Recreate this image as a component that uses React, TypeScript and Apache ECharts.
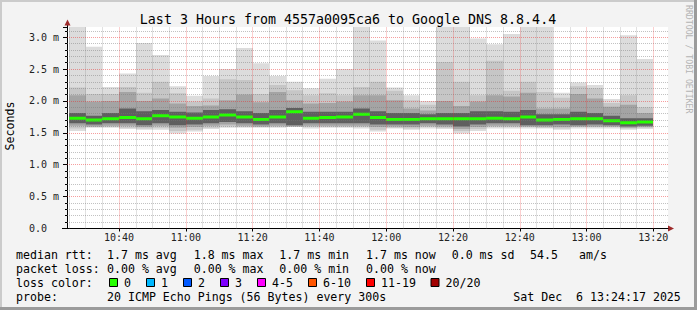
import React, { useEffect, useRef } from "react";
import * as echarts from "echarts";

// ---- data (ms) ----
const slotStart = ["10:25","10:30","10:35","10:40","10:45","10:50","10:55","11:00","11:05","11:10","11:15","11:20","11:25","11:30","11:35","11:40","11:45","11:50","11:55","12:00","12:05","12:10","12:15","12:20","12:25","12:30","12:35","12:40","12:45","12:50","12:55","13:00","13:05","13:10","13:15"];
const maxV = [3.2,2.85,2.22,2.43,2.91,2.72,2.23,2.08,2.39,2.50,2.83,2.59,2.39,2.30,2.20,2.35,2.50,3.2,2.95,2.21,2.09,2.00,3.2,3.2,2.98,2.89,3.05,3.2,3.2,2.13,2.29,2.25,2.03,3.03,2.66];
const p90 = [2.21,2.11,2.11,2.22,2.13,2.30,2.12,1.99,2.04,2.34,2.33,2.11,2.25,2.17,2.09,2.12,2.09,2.22,2.30,2.16,2.01,1.94,2.61,2.30,2.09,2.63,2.16,2.30,2.14,2.05,2.23,2.20,1.97,2.09,1.90];
const p75 = [2.09,1.99,2.00,2.14,2.00,2.04,1.96,1.92,1.93,2.01,2.10,1.98,2.14,2.01,1.96,1.97,1.99,2.09,2.09,2.01,1.88,1.85,2.00,1.92,1.99,2.09,2.07,2.13,1.88,1.88,2.11,2.04,1.91,1.94,1.81];
const innerHi = [1.81,1.77,1.81,1.88,1.84,1.86,1.83,1.82,1.86,1.87,1.84,1.81,1.86,1.89,1.83,1.83,1.83,1.88,1.84,1.81,1.81,1.79,1.81,1.81,1.84,1.84,1.83,1.86,1.79,1.79,1.83,1.81,1.77,1.73,1.73];
const median = [1.73,1.70,1.72,1.74,1.72,1.77,1.75,1.73,1.75,1.78,1.75,1.71,1.75,1.83,1.73,1.74,1.75,1.79,1.74,1.71,1.71,1.72,1.72,1.72,1.72,1.73,1.72,1.75,1.70,1.71,1.72,1.72,1.69,1.66,1.67];
const innerLo = [1.65,1.63,1.65,1.65,1.62,1.65,1.62,1.63,1.65,1.67,1.65,1.63,1.65,1.62,1.65,1.65,1.65,1.65,1.63,1.63,1.63,1.65,1.63,1.60,1.63,1.65,1.65,1.62,1.62,1.63,1.62,1.63,1.62,1.60,1.61];
const p25 = [1.61,1.60,1.61,1.61,1.59,1.61,1.58,1.59,1.61,1.63,1.61,1.60,1.61,1.60,1.61,1.61,1.61,1.61,1.59,1.60,1.59,1.61,1.60,1.56,1.59,1.61,1.61,1.60,1.60,1.59,1.60,1.60,1.60,1.58,1.59];
const p10 = [1.57,1.59,1.59,1.58,1.57,1.58,1.53,1.55,1.58,1.60,1.59,1.59,1.59,1.60,1.59,1.59,1.59,1.59,1.55,1.58,1.57,1.59,1.58,1.53,1.56,1.59,1.59,1.59,1.58,1.57,1.59,1.59,1.59,1.57,1.58];
const minV = [1.53,1.58,1.58,1.56,1.55,1.55,1.49,1.52,1.56,1.58,1.58,1.58,1.58,1.60,1.57,1.58,1.58,1.57,1.52,1.57,1.55,1.57,1.56,1.49,1.53,1.57,1.57,1.57,1.57,1.55,1.57,1.57,1.57,1.55,1.56];

const xTickLabels = ["10:40","11:00","11:20","11:40","12:00","12:20","12:40","13:00","13:20"];
const rangeStart = "10:24:24";
const rangeEnd = "13:24:24";
const stepMinutes = 5;

const titleText = "Last 3 Hours from 4557a0095ca6 to Google DNS 8.8.4.4";
const rttStats = ["1.7 ms avg","1.8 ms max","1.7 ms min","1.7 ms now","0.0 ms sd","54.5","am/s"];
const lossStats = ["0.00 % avg","0.00 % max","0.00 % min","0.00 % now"];
const lossLabels = ["0","1","2","3","4-5","6-10","11-19","20/20"];
const lossColors = ["#26ff00","#00b8ff","#0059ff","#7e00ff","#ff00ff","#ff5500","#ff0000","#a10000"];
const probeText = "20 ICMP Echo Pings (56 Bytes) every 300s";
const dateText = "Sat Dec\u00a0 6 13:24:17 2025";

// ---- layout ----
const RTT_X = [107, 193.7, 279.3, 366, 451.7, 530, 579];
const BOX_X = [109, 146, 183, 220, 257, 308, 366, 430.5];
const ROW_Y = [254.5, 268.5, 282.5, 296.5];
const MONO = '"DejaVu Sans Mono", monospace';

const toMin = (s: string) => {
  const p = s.split(":").map(Number);
  return (p[0] - 10) * 60 + p[1] + (p[2] || 0) / 60;
};
const fmtTime = (v: number) => {
  const h = 10 + Math.floor(v / 60);
  const m = Math.round(v % 60);
  return `${h}:${m < 10 ? "0" + m : m}`;
};

export default function App() {
  const ref = useRef<HTMLDivElement>(null);
  useEffect(() => {
    document.body.style.margin = "0";
    const chart = echarts.init(ref.current!, null, { renderer: "svg" });
    const xMin = toMin(rangeStart);
    const xMax = toMin(rangeEnd);
    const yMax = 3.16;

    const data = slotStart.map((s, i) => [
      toMin(s), minV[i], p10[i], p25[i], innerLo[i], median[i], innerHi[i], p75[i], p90[i], maxV[i],
    ]);

    const majorX = xTickLabels.map(toMin);
    const minorX: number[] = [];
    for (let v = Math.ceil(xMin / stepMinutes) * stepMinutes; v <= xMax; v += stepMinutes) {
      if (!majorX.includes(v)) minorX.push(v);
    }
    const majorY: number[] = [];
    const minorY: number[] = [];
    for (let k = 1; k * 0.1 < yMax; k++) {
      const v = +(k * 0.1).toFixed(1);
      if (k % 5 === 0) majorY.push(v);
      else minorY.push(v);
    }

    const gridLineSeries = (xs: number[], ys: number[], color: string) => ({
      type: "line",
      data: [[xMin, 0]],
      symbol: "none",
      lineStyle: { opacity: 0 },
      silent: true,
      markLine: {
        silent: true,
        symbol: "none",
        animation: false,
        label: { show: false },
        emphasis: { disabled: true },
        lineStyle: { color, type: [1, 1], width: 1 },
        data: [...xs.map((v) => ({ xAxis: v })), ...ys.map((v) => ({ yAxis: v }))],
      },
    });

    const textEl = (text: string, x: number, y: number, size = 11.6, extra: any = {}) => ({
      type: "text",
      x,
      y,
      silent: true,
      ...extra,
      style: { text, font: `${size}px ${MONO}`, fill: "#000", verticalAlign: "middle", align: "left", ...(extra.style || {}) },
    });

    const graphics: any[] = [
      // frame
      { type: "rect", shape: { x: 0, y: 0, width: 697, height: 2 }, style: { fill: "#cbcbcb" }, silent: true },
      { type: "rect", shape: { x: 0, y: 0, width: 2, height: 310 }, style: { fill: "#cbcbcb" }, silent: true },
      { type: "rect", shape: { x: 0, y: 307, width: 697, height: 3 }, style: { fill: "#9b9b9b" }, silent: true },
      { type: "rect", shape: { x: 694, y: 0, width: 3, height: 310 }, style: { fill: "#9b9b9b" }, silent: true },
      // axis extensions and arrows
      { type: "line", shape: { x1: 67.5, y1: 28, x2: 67.5, y2: 23 }, style: { stroke: "#000", lineWidth: 1 }, silent: true },
      { type: "line", shape: { x1: 62, y1: 228.5, x2: 67, y2: 228.5 }, style: { stroke: "#000", lineWidth: 1 }, silent: true },
      { type: "line", shape: { x1: 667, y1: 228.5, x2: 669, y2: 228.5 }, style: { stroke: "#000", lineWidth: 1 }, silent: true },
      { type: "polygon", shape: { points: [[64.5, 25.5], [70.5, 25.5], [67.5, 19.5]] }, style: { fill: "#9e2a2a" }, silent: true },
      { type: "polygon", shape: { points: [[668, 225.5], [668, 231.5], [674, 228.5]] }, style: { fill: "#9e2a2a" }, silent: true },
      // title & side texts
      textEl(titleText, 348, 19, 13.3, { style: { align: "center" } }),
      textEl("Seconds", 10, 126, 11.6, { rotation: Math.PI / 2, style: { align: "center" } }),
      textEl("RRDTOOL / TOBI OETIKER", 688.5, 5, 8.2, { rotation: -Math.PI / 2, style: { fill: "#b4b4b4" } }),
      // legend rows
      textEl("median rtt:", 16, ROW_Y[0]),
      ...rttStats.map((t, i) => textEl(t, RTT_X[i], ROW_Y[0])),
      textEl("packet loss:", 16, ROW_Y[1]),
      ...lossStats.map((t, i) => textEl(t, RTT_X[i], ROW_Y[1])),
      textEl("loss color:", 16, ROW_Y[2]),
      ...lossColors.map((c, i) => ({
        type: "rect",
        shape: { x: BOX_X[i] + 0.5, y: ROW_Y[2] - 4, width: 8, height: 8 },
        style: { fill: c, stroke: "#000", lineWidth: 1 },
        silent: true,
      })),
      ...lossLabels.map((t, i) => textEl(t, BOX_X[i] + 15, ROW_Y[2])),
      textEl("probe:", 16, ROW_Y[3]),
      textEl(probeText, RTT_X[0], ROW_Y[3]),
      textEl(dateText, 513.3, ROW_Y[3]),
    ];

    chart.setOption({
      animation: false,
      backgroundColor: "#f3f3f3",
      grid: { left: 67, right: 29, top: 27, bottom: 81.5, show: true, backgroundColor: "#ffffff", borderWidth: 0 },
      xAxis: {
        type: "value",
        min: xMin,
        max: xMax,
        axisLine: { show: true, lineStyle: { color: "#000", width: 1 } },
        axisTick: { show: true, length: 3, customValues: majorX, lineStyle: { color: "#000" } },
        axisLabel: {
          customValues: majorX,
          formatter: (v: number) => fmtTime(v),
          fontFamily: MONO,
          fontSize: 10,
          color: "#222",
          margin: 4,
        },
        splitLine: { show: false },
      },
      yAxis: {
        type: "value",
        min: 0,
        max: yMax,
        interval: 0.5,
        axisLine: { show: true, lineStyle: { color: "#000", width: 1 } },
        axisTick: { show: true, length: 4, lineStyle: { color: "#000" } },
        minorTick: { show: true, splitNumber: 5, length: 2, lineStyle: { color: "#000" } },
        axisLabel: {
          formatter: (v: number) => (v === 0 ? "0.0" : v.toFixed(1) + " m"),
          fontFamily: MONO,
          fontSize: 10,
          color: "#222",
          align: "left",
          margin: 38,
          showMaxLabel: false,
        },
        splitLine: { show: false },
        minorSplitLine: { show: false },
      },
      series: [
        {
          type: "custom",
          clip: true,
          silent: true,
          encode: { x: 0, y: 9 },
          data,
          renderItem: (params: any, api: any) => {
            const t = api.value(0) as number;
            const x0 = Math.round(api.coord([t, 0])[0]);
            const x1 = Math.round(api.coord([t + stepMinutes, 0])[0]);
            const w = x1 - x0;
            const layer = (lo: number, hi: number, fill: string) => {
              const yl = api.coord([t, api.value(lo)])[1];
              const yh = api.coord([t, Math.min(api.value(hi), yMax)])[1];
              return { type: "rect", shape: { x: x0, y: yh, width: w, height: yl - yh }, style: { fill } };
            };
            const ym = api.coord([t, api.value(5)])[1];
            return {
              type: "group",
              children: [
                layer(1, 9, "#dcdcdc"),
                layer(2, 8, "#c6c6c6"),
                layer(3, 7, "#a4a4a4"),
                layer(4, 6, "#5f5f5f"),
                { type: "rect", shape: { x: x0, y: ym - 1.5, width: w, height: 3 }, style: { fill: lossColors[0] } },
              ],
            };
          },
        },
        gridLineSeries(minorX, minorY, "rgba(120,120,120,0.45)"),
        gridLineSeries(majorX, majorY, "rgba(235,40,40,0.45)"),
      ],
      graphic: graphics,
    });
    return () => chart.dispose();
  }, []);
  return <div ref={ref} style={{ width: 697, height: 310 }} />;
}
